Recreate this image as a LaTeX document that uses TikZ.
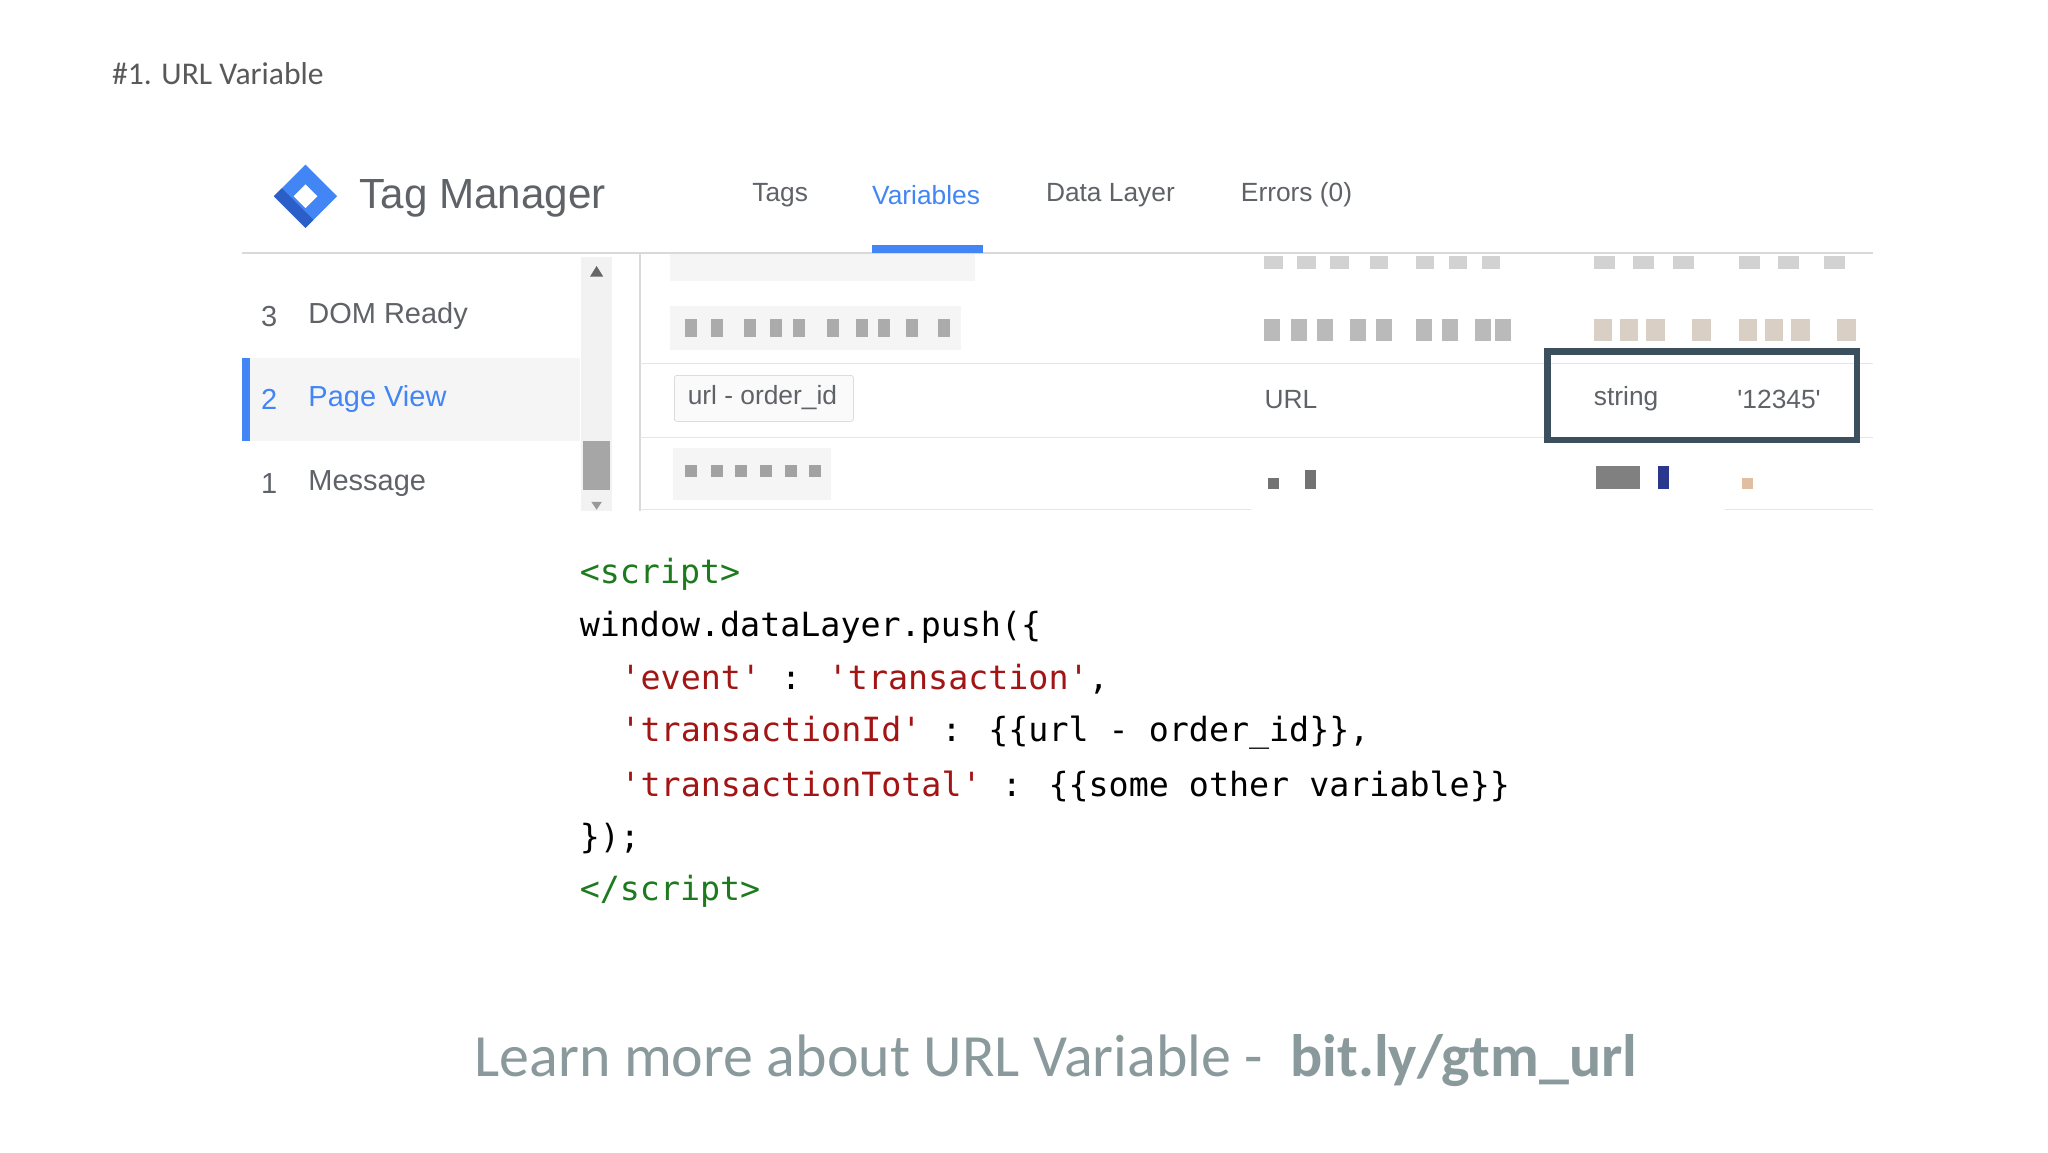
\documentclass[tikz,border=0pt]{standalone}
\usepackage{fontspec}
\setmainfont{Liberation Sans}
\newfontfamily\myCalibri{Carlito}
\newfontfamily\myArial{Liberation Sans}
\newfontfamily\myMono{DejaVu Sans Mono}
\definecolor{gtmblue}{HTML}{4285F4}
\definecolor{gtmdark}{HTML}{2B5FC7}
\definecolor{uigray}{HTML}{5F6368}
\definecolor{slate}{HTML}{3C4F5C}
\definecolor{codegreen}{HTML}{1E7A1E}
\definecolor{codered}{HTML}{A31515}
\definecolor{foot}{HTML}{8A999C}
\tikzset{
  ui/.style={anchor=west,inner sep=0pt,font=\myArial\fontsize{20}{24}\selectfont,text=uigray},
  code/.style={anchor=west,inner sep=0pt,font=\myMono\fontsize{25.3}{30}\selectfont},
  rowline/.style={draw=black!10,line width=1pt}
}
\begin{document}
\begin{tikzpicture}[x=1pt,y=-1pt]
\useasboundingbox[fill=white] (0,0) rectangle (1555,875);
\node[anchor=west,inner sep=0pt,font=\myCalibri\fontsize{24}{28}\selectfont,text=black!65] (title) at (85,56) {\#1. URL Variable};
% logo
\fill[gtmblue] (232,125) -- (256,149) -- (232,173) -- (208,149) -- cycle;
\fill[gtmdark] (208,149) -- (232,173) -- (238,167) -- (214,143) -- cycle;
\fill[white] (232,140) -- (241,149) -- (232,158) -- (223,149) -- cycle;
\node[ui,font=\myArial\fontsize{32}{36}\selectfont] (tm) at (273,151) {Tag Manager};
\node[ui] (tags) at (571,148) {Tags};
\node[ui,text=gtmblue] (vars) at (662,148) {Variables};
\node[ui] (dl) at (794,148) {Data Layer};
\node[ui] (err) at (942,148) {Errors (0)};
\draw[black!15,line width=1pt] (184,192) -- (1422,192);
\fill[gtmblue] (662,186) rectangle (746,192);
% left panel
\fill[black!4] (184,272) rectangle (440,335);
\fill[gtmblue] (184,272) rectangle (190,335);
\node[ui,font=\myArial\fontsize{22}{26}\selectfont] (n3) at (198,240) {3};
\node[ui,font=\myArial\fontsize{22}{26}\selectfont] (dom) at (234,240) {DOM Ready};
\node[ui,font=\myArial\fontsize{22}{26}\selectfont,text=gtmblue] (n2) at (198,303) {2};
\node[ui,font=\myArial\fontsize{22}{26}\selectfont,text=gtmblue] (pv) at (234,303) {Page View};
\node[ui,font=\myArial\fontsize{22}{26}\selectfont] (n1) at (198,367) {1};
\node[ui,font=\myArial\fontsize{22}{26}\selectfont] (msg) at (234,367) {Message};
% scrollbar
\fill[black!5] (441,195) rectangle (465,388);
\fill[black!35] (443,335) rectangle (463,372);
\fill[black!60] (453,202) -- (458,210) -- (448,210) -- cycle;
\fill[black!40] (453,387) -- (457,381) -- (449,381) -- cycle;
\draw[black!15,line width=1pt] (486,192) -- (486,388);
% rows
\draw[rowline] (486,276) -- (1422,276);
\draw[rowline] (486,332) -- (1422,332);
\draw[rowline] (486,387) -- (950,387);
\draw[rowline] (1310,387) -- (1422,387);
% blurred blocks
\fill[black!4] (509,193) rectangle (740,213);
\fill[black!4] (509,232) rectangle (730,266);
\fill[black!4] (511,340) rectangle (631,380);
\foreach \x in {520,540,565,585,602,628,650,667,688,712}{\fill[black!45,opacity=.7] (\x,242) rectangle (\x+9,256);}
\foreach \x in {520,540,558,577,596,614}{\fill[black!50,opacity=.7] (\x,353) rectangle (\x+9,362);}
\foreach \x in {960,980,1000,1025,1045,1075,1095,1120,1135}{\fill[black!45,opacity=.6] (\x,242) rectangle (\x+12,259);}
\foreach \x in {1210,1230,1250,1285,1320,1340,1360,1395}{\fill[brown!60!black!45,opacity=.6] (\x,242) rectangle (\x+14,259);}
\foreach \x in {960,985,1010,1040,1075,1100,1125}{\fill[black!35,opacity=.5] (\x,194) rectangle (\x+14,204);}
\foreach \x in {1210,1240,1270,1320,1350,1385}{\fill[black!35,opacity=.5] (\x,194) rectangle (\x+16,204);}
\fill[black!55] (963,363) rectangle (971,371);
\fill[black!55] (991,357) rectangle (999,371);
\fill[black!50] (1212,354) rectangle (1245,371);
\fill[slate!70!blue] (1259,354) rectangle (1267,371);
\fill[brown!50] (1323,363) rectangle (1331,371);
% selected row
\node[draw=black!20,fill=black!2,rounded corners=2pt,minimum width=136pt,minimum height=35pt,inner sep=0pt] (ordbox) at (580,302.5) {};
\node[ui] (ord) at (522,302) {url - order\_id};
\node[ui] (url) at (960,303) {URL};
\node[draw=slate,line width=5pt,minimum width=235pt,minimum height=67pt,inner sep=0pt] (hl) at (1292.5,300.5) {};
\node[ui] (str) at (1210,303) {string};
\node[ui] (val) at (1319,303) {'12345'};
% code
\node[code,text=codegreen] (c1) at (440,436) {<script>};
\node[code] (c2) at (440,476) {window.dataLayer.push(\{};
\node[code] (c3) at (471,516) {\textcolor{codered}{'event'} : \textcolor{codered}{'transaction'},};
\node[code] (c4) at (471,556) {\textcolor{codered}{'transactionId'} : \{\{url - order\_id\}\},};
\node[code] (c5) at (471,597) {\textcolor{codered}{'transactionTotal'} : \{\{some other variable\}\}};
\node[code] (c6) at (440,637) {\});};
\node[code,text=codegreen] (c7) at (440,677) {</script>};
% footer
\node[anchor=west,inner sep=0pt,font=\myCalibri\fontsize{45.5}{50}\selectfont,text=foot] (ft) at (360,805) {Learn more about URL Variable -~~\textbf{bit.ly/gtm\_url}};
\end{tikzpicture}
\end{document}
